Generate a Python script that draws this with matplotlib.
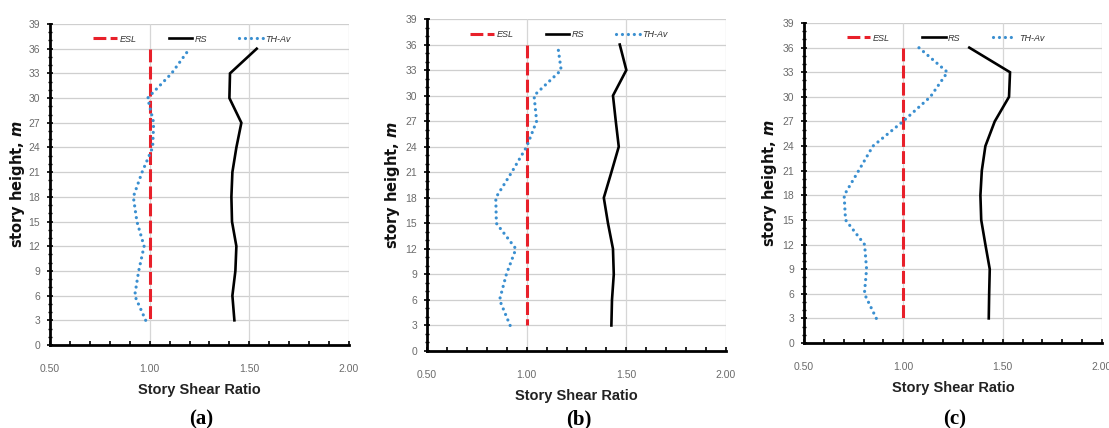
import matplotlib
matplotlib.use('Agg')
import matplotlib.pyplot as plt
from matplotlib.ticker import MultipleLocator, FixedLocator, FormatStrFormatter

# ---------------- data ----------------
heights = [3, 6, 9, 12, 15, 18, 21, 24, 27, 30, 33, 36]
esl = [1.0] * 12

rs_a = [1.425, 1.415, 1.430, 1.435, 1.413, 1.410, 1.415, 1.435, 1.460, 1.400, 1.403, 1.537]
th_a = [0.980, 0.925, 0.945, 0.972, 0.936, 0.918, 0.962, 1.015, 1.020, 0.990, 1.110, 1.200]

rs_b = [1.425, 1.428, 1.437, 1.433, 1.408, 1.387, 1.425, 1.462, 1.447, 1.433, 1.500, 1.467]
th_b = [0.917, 0.864, 0.898, 0.946, 0.848, 0.845, 0.925, 1.000, 1.050, 1.037, 1.173, 1.155]

rs_c = [1.430, 1.432, 1.435, 1.413, 1.392, 1.388, 1.395, 1.413, 1.460, 1.532, 1.537, 1.332]
th_c = [0.864, 0.804, 0.815, 0.805, 0.709, 0.702, 0.775, 0.847, 0.998, 1.136, 1.222, 1.078]

panel_labels = ['(a)', '(b)', '(c)']
series_names = ['ESL', 'RS', 'TH-Av']
x_ticks = [0.5, 1.0, 1.5, 2.0]
y_ticks = list(range(0, 40, 3))

# ---------------- style ----------------
plt.rcParams['mathtext.fontset'] = 'custom'
plt.rcParams['mathtext.it'] = 'DejaVu Sans:italic:bold'
plt.rcParams['mathtext.rm'] = 'DejaVu Sans:bold'

narrow = ['Liberation Sans Narrow', 'Liberation Sans', 'DejaVu Sans']
tick_color = '#6b6b6b'
red = '#e8202a'
blue = '#3a8fd0'

fig = plt.figure(figsize=(11.09, 4.28), dpi=100)

# axes rectangles in pixels: left, right, top, bottom
rects_px = [(50, 349, 24, 345), (427, 726, 19, 351), (804, 1102, 23, 343)]
ylabel_right_px = [27, 402, 779]
W, H = 1109, 428

data = [(rs_a, th_a), (rs_b, th_b), (rs_c, th_c)]

for i, ((l, r, t, b), (rs, th)) in enumerate(zip(rects_px, data)):
    ax = fig.add_axes([l / W, 1 - b / H, (r - l) / W, (b - t) / H])
    ax.set_xlim(0.5, 2.0)
    ax.set_ylim(0, 39)

    # grid
    ax.set_axisbelow(True)
    for yv in y_ticks[1:]:
        ax.axhline(yv, color='#cfcfcf', lw=0.9, zorder=0)
    for xv in x_ticks[1:]:
        ax.axvline(xv, color='#d6d6d6', lw=0.9, zorder=0)

    # lines (ESL drawn from top down so the dash pattern starts at the top)
    l1, = ax.plot(esl[::-1], heights[::-1], color=red, lw=2.2,
                  linestyle=(0, (4.2, 1.4)), label=series_names[0], zorder=3)
    l2, = ax.plot(rs, heights, color='black', lw=1.9, label=series_names[1],
                  zorder=4, solid_joinstyle='miter')
    l3, = ax.plot(th, heights, color=blue, lw=2.3, linestyle=(0, (0.01, 1.85)),
                  dash_capstyle='round', label=series_names[2], zorder=5)

    # spines
    for s in ['top', 'right']:
        ax.spines[s].set_visible(False)
    ax.spines['left'].set_linewidth(2.0)
    ax.spines['bottom'].set_linewidth(2.0)

    # ticks
    ax.xaxis.set_major_locator(FixedLocator(x_ticks))
    ax.xaxis.set_major_formatter(FormatStrFormatter('%.2f'))
    ax.xaxis.set_minor_locator(MultipleLocator(0.1))
    ax.yaxis.set_major_locator(FixedLocator(y_ticks))
    ax.yaxis.set_minor_locator(MultipleLocator(1))
    ax.tick_params(axis='x', which='major', direction='in', length=3, width=1.2,
                   pad=14, labelsize=7.5, labelcolor=tick_color, color='black')
    ax.tick_params(axis='x', which='minor', direction='in', length=3, width=1.2,
                   color='black')
    ax.tick_params(axis='y', which='major', direction='inout', length=4, width=1.2,
                   pad=5, labelsize=7.5, labelcolor=tick_color, color='black')
    ax.tick_params(axis='y', which='minor', direction='inout', length=3, width=1.0,
                   color='black')
    for lab in ax.get_xticklabels() + ax.get_yticklabels():
        lab.set_family(narrow)

    # labels
    ax.set_xlabel('Story Shear Ratio', fontsize=10.5, fontweight='bold',
                  family=narrow, color='#222222', labelpad=6)
    ax.set_ylabel('story height, $m$', fontsize=10.5, fontweight='bold',
                  family='DejaVu Sans', color='#111111')
    ax.yaxis.set_label_coords((ylabel_right_px[i] - l) / (r - l), 0.5)

    leg = ax.legend(handles=[l1, l2, l3], loc='center', bbox_to_anchor=(0.475, 0.953),
                    ncol=3, frameon=False, handlelength=2.6, handletextpad=0.25,
                    columnspacing=3.6, prop={'family': narrow, 'style': 'italic', 'size': 6.5})
    for txt in leg.get_texts():
        txt.set_color('#333333')

    fig.text(((l + r) / 2 + 2) / W, 1 - 409 / H, panel_labels[i], ha='center',
             va='top', fontsize=15, fontweight='bold', family='Liberation Serif')

fig.savefig('out.png', dpi=100)
